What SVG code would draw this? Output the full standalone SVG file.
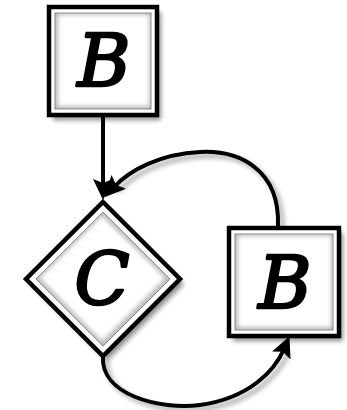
<svg xmlns="http://www.w3.org/2000/svg" width="347" height="410" viewBox="0 0 347 410">
  <style>
    .frame { fill: #ffffff; stroke: #000000; stroke-width: 4.5; stroke-linejoin: miter; }
    .panel { fill: #bdbdbd; stroke: #6a6a6a; stroke-width: 0.8; }
    .glow { fill: #ffffff; filter: url(#soft); }
    .shadow { fill: #000000; opacity: 0.45; filter: url(#blur); }
    .label { font-family: "DejaVu Serif", "Liberation Serif", serif; font-style: italic; font-weight: normal; font-size: 72px; fill: #000000; stroke: #000000; stroke-width: 2.6; stroke-linejoin: round; text-anchor: middle; }
    .edge { fill: none; stroke: #000000; stroke-width: 4; }
    .edge-shadow { fill: none; stroke: #000000; stroke-width: 4; opacity: 0.35; filter: url(#blur); }
  </style>
  <defs>
    <filter id="blur" x="-20%" y="-20%" width="140%" height="140%">
      <feGaussianBlur stdDeviation="2.5"/>
    </filter>
    <filter id="soft" x="-20%" y="-20%" width="140%" height="140%">
      <feGaussianBlur stdDeviation="2"/>
    </filter>
    <marker id="head" markerUnits="userSpaceOnUse" markerWidth="22" markerHeight="20" viewBox="0 0 22 20" refX="7" refY="10" orient="auto">
      <path d="M0,0 L21,10 L0,20 L4,10 Z" fill="#000000"/>
    </marker>
    <clipPath id="clipTop"><rect x="55" y="13" width="96" height="96"/></clipPath>
    <clipPath id="clipRight"><rect x="235" y="234" width="98" height="96"/></clipPath>
    <clipPath id="clipDiamond"><polygon points="103,212 170,279 103,346 36,279"/></clipPath>
  </defs>

  <!-- connectors -->
  <g id="connectors">
    <path class="edge-shadow" d="M106,120 L106,190"/>
    <path class="edge-shadow" d="M282,230 C284,174 244,154 204,156 C164,158 134,174 117,192"/>
    <path class="edge-shadow" d="M107,360 C104,399 164,414 204,409 C254,402 279,374 289,352"/>
    <path class="edge" d="M103,116 L103,186" marker-end="url(#head)"/>
    <path class="edge" d="M278,226 C280,170 240,150 200,152 C160,154 130,170 114,187" marker-end="url(#head)"/>
    <path class="edge" d="M103,356 C100,395 160,410 200,405 C250,398 275,370 284,349" marker-end="url(#head)"/>
  </g>

  <!-- top node -->
  <g id="node-b-top">
    <rect class="shadow" x="53" y="12" width="108" height="108"/>
    <rect class="frame" x="49" y="7" width="108" height="108"/>
    <rect class="panel" x="55" y="13" width="96" height="96"/>
    <rect class="glow" x="58" y="15" width="91" height="91" clip-path="url(#clipTop)"/>
    <text class="label" x="104" y="86">B</text>
  </g>

  <!-- diamond node -->
  <g id="node-c">
    <polygon class="shadow" points="107,207 184,284 107,361 30,284"/>
    <polygon class="frame" points="103,202 180,279 103,356 26,279"/>
    <polygon class="panel" points="103,212 170,279 103,346 36,279"/>
    <polygon class="glow" points="102,216 165,278 102,341 40,278" clip-path="url(#clipDiamond)"/>
    <text class="label" x="102" y="305">C</text>
  </g>

  <!-- right node -->
  <g id="node-b-right">
    <rect class="shadow" x="233" y="233" width="110" height="108"/>
    <rect class="frame" x="229" y="228" width="110" height="108"/>
    <rect class="panel" x="235" y="234" width="98" height="96"/>
    <rect class="glow" x="238" y="236" width="93" height="91" clip-path="url(#clipRight)"/>
    <text class="label" x="285" y="308">B</text>
  </g>
</svg>
